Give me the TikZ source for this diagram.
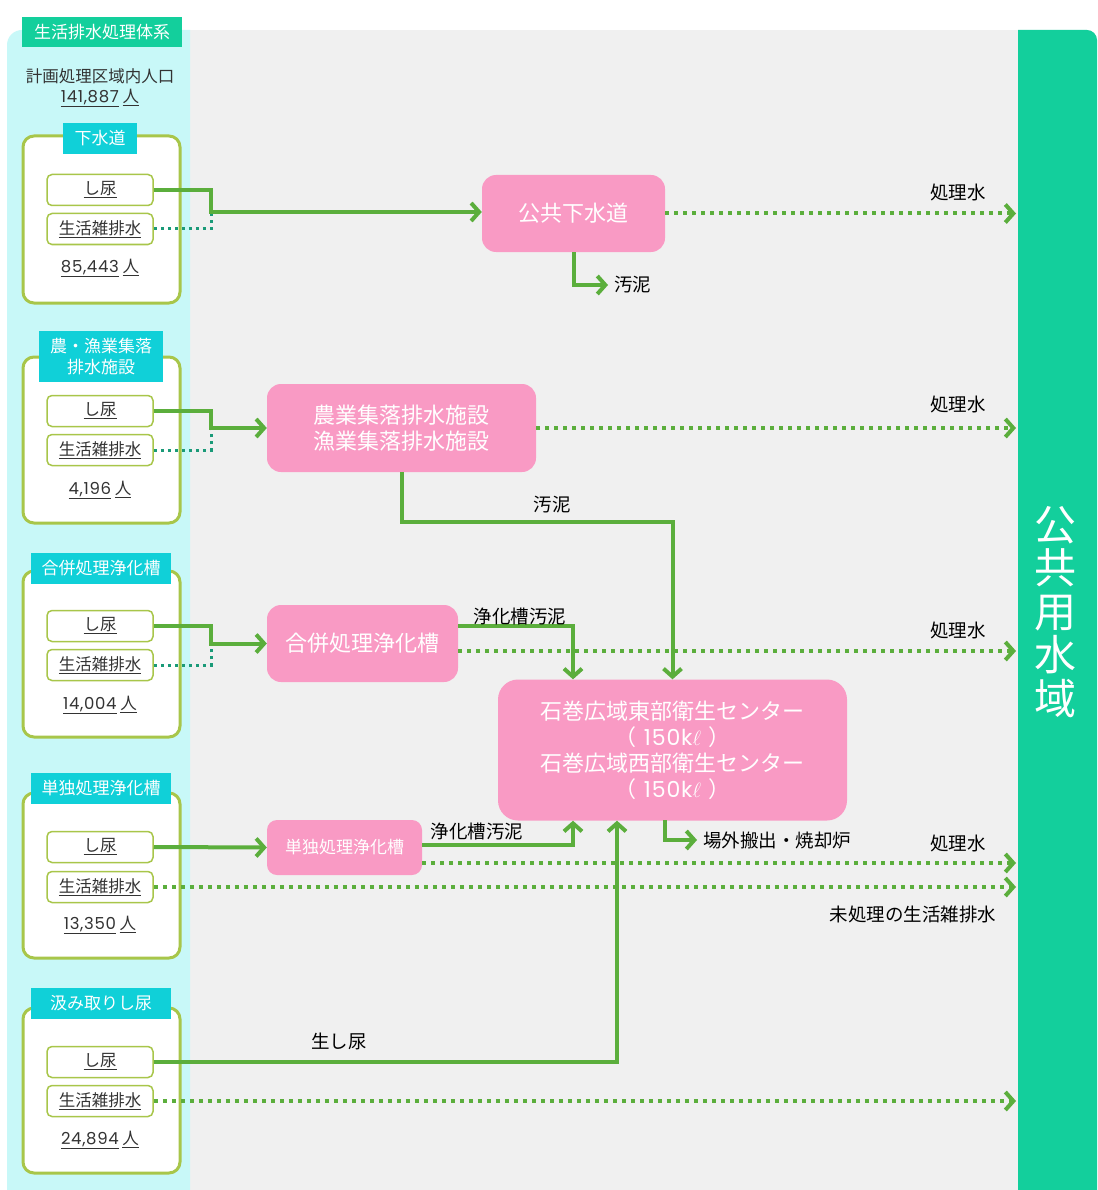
\documentclass[tikz,border=0pt]{standalone}
\usepackage{fontspec}
\setmainfont{Noto Sans CJK JP}
\newfontfamily\numfont[LetterSpace=4]{Poppins}
\usetikzlibrary{arrows.meta}
\definecolor{cyanbg}{HTML}{C8F8F8}
\definecolor{graybg}{HTML}{F0F0F0}
\definecolor{seagreen}{HTML}{13CF9C}
\definecolor{tabcyan}{HTML}{10D0D8}
\definecolor{boxgreen}{HTML}{A8C64A}
\definecolor{arrgreen}{HTML}{5BAE3C}
\definecolor{dotteal}{HTML}{1A9A78}
\definecolor{pinkbox}{HTML}{F99AC4}
\definecolor{txtgray}{HTML}{333333}
\newcommand\fsz[2]{\fontsize{#1}{#2}\selectfont}
\newcommand\numu[1]{\underline{{\numfont #1}}}
\newcommand\capline{（\hspace{7pt}{\numfont 150k}$\ell$\hspace{7pt}）}
\tikzset{
  group/.style={draw=boxgreen, line width=3pt, fill=white, rounded corners=11pt, minimum width=157pt, inner sep=0pt},
  tab/.style={fill=tabcyan, text=white, font=\fsz{17}{21}, inner sep=0pt, align=center},
  item/.style={draw=boxgreen, line width=1.5pt, fill=white, rounded corners=5pt, minimum width=106pt, minimum height=31pt, inner sep=0pt, font=\fsz{16.5}{19}, text=txtgray},
  count/.style={font=\fsz{16.5}{19}, text=txtgray, inner sep=0pt},
  pink/.style={fill=pinkbox, rounded corners=14pt, text=white, align=center, inner sep=0pt, font=\fsz{22}{26}},
  flow/.style={draw=arrgreen, line width=4pt, -{Straight Barb[length=8pt,width=18pt]}},
  treated/.style={draw=arrgreen, line width=4pt, dash pattern=on 4pt off 5pt, -{Straight Barb[length=8pt,width=18pt]}},
  feed/.style={draw=dotteal, line width=3pt, dash pattern=on 3pt off 4pt},
  lbl/.style={font=\fsz{18.5}{21}, text=black, inner sep=0pt},
}
\begin{document}
\begin{tikzpicture}[x=1pt,y=-1pt]
\useasboundingbox (0,0) rectangle (1097,1190);
\fill[white] (0,0) rectangle (1097,1190);
% backgrounds
\fill[graybg] (190,30) rectangle (1018,1190);
\fill[cyanbg] (7,1190) [rounded corners=15pt]-- (7,30) [sharp corners]-- (190,30) -- (190,1190) -- cycle;
\fill[seagreen] (1018,1190) -- (1018,30) [rounded corners=10pt]-- (1097,30) [sharp corners]-- (1097,1190) -- cycle;
\node[text=white, font=\fsz{42}{43.5}, align=center, inner sep=0pt] (sea) at (1055,612) {公\\共\\用\\水\\域};

% title
\node[fill=seagreen, text=white, font=\fsz{17}{20}, minimum width=160pt, minimum height=30pt, inner sep=0pt] (title) at (102,32) {生活排水処理体系};
\node[count, align=center, font=\fsz{16.5}{20}] (pop) at (100,88) {計画処理区域内人口\\\numu{141,887} \underline{人}};

% groups
\node[group, minimum height=167pt] (g1) at (101.5,219.5) {};
\node[group, minimum height=166pt] (g2) at (101.5,440) {};
\node[group, minimum height=166pt] (g3) at (101.5,654) {};
\node[group, minimum height=165pt] (g4) at (101.5,875.5) {};
\node[group, minimum height=165pt] (g5) at (101.5,1090.5) {};

\node[tab, minimum width=74pt, minimum height=31pt] (t1) at (100,138.5) {下水道};
\node[tab, minimum width=124pt, minimum height=51pt] (t2) at (101,356.5) {農・漁業集落\\排水施設};
\node[tab, minimum width=140pt, minimum height=31pt] (t3) at (101,568.5) {合併処理浄化槽};
\node[tab, minimum width=140pt, minimum height=31pt] (t4) at (101,788.5) {単独処理浄化槽};
\node[tab, minimum width=140pt, minimum height=31pt] (t5) at (101,1003.5) {汲み取りし尿};

\node[item] (i1a) at (100,190) {\underline{し尿}};
\node[item] (i1b) at (100,229) {\underline{生活雑排水}};
\node[count] (n1) at (100,268) {\numu{85,443} \underline{人}};
\node[item] (i2a) at (100,411) {\underline{し尿}};
\node[item] (i2b) at (100,450) {\underline{生活雑排水}};
\node[count] (n2) at (100,490) {\numu{4,196} \underline{人}};
\node[item] (i3a) at (100,626) {\underline{し尿}};
\node[item] (i3b) at (100,665) {\underline{生活雑排水}};
\node[count] (n3) at (100,705) {\numu{14,004} \underline{人}};
\node[item] (i4a) at (100,847) {\underline{し尿}};
\node[item] (i4b) at (100,887) {\underline{生活雑排水}};
\node[count] (n4) at (100,925) {\numu{13,350} \underline{人}};
\node[item] (i5a) at (100,1062) {\underline{し尿}};
\node[item] (i5b) at (100,1101) {\underline{生活雑排水}};
\node[count] (n5) at (100,1140) {\numu{24,894} \underline{人}};

% treatment boxes
\node[pink, minimum width=183pt, minimum height=77pt] (p1) at (573.5,213.5) {公共下水道};
\node[pink, minimum width=269pt, minimum height=88pt] (p2) at (401.5,428) {農業集落排水施設\\漁業集落排水施設};
\node[pink, minimum width=191pt, minimum height=77pt] (p3) at (362.5,643.5) {合併処理浄化槽};
\node[pink, minimum width=155pt, minimum height=55pt, font=\fsz{17}{20}, rounded corners=10pt] (p4) at (344.5,847.5) {単独処理浄化槽};
\node[pink, minimum width=349pt, minimum height=141pt, font=\fsz{22}{26}, rounded corners=20pt] (p5) at (672.5,750) {石巻広域東部衛生センター\\\capline\\石巻広域西部衛生センター\\\capline};

% coordinates
\coordinate (j1) at (211,212);
\coordinate (j2) at (211,428);
\coordinate (j3) at (211,643.5);
\coordinate (w1) at (1016,213.5);
\coordinate (w2) at (1016,428);
\coordinate (w3) at (1016,651);
\coordinate (w4) at (1016,863);
\coordinate (w5) at (1016,887);
\coordinate (w6) at (1016,1101);
\coordinate (s1) at (608,285);
\coordinate (k2) at (672.5,522);
\coordinate (k3) at (573,626);
\coordinate (k4) at (573,845);
\coordinate (k5) at (617,1062);
\coordinate (k6) at (697,840);
\coordinate (q6) at (665,820);

% feeds
\draw[feed] (i1b.east) -| (j1);
\draw[feed] (i2b.east) -| (j2);
\draw[feed] (i3b.east) -| (j3);
\draw[flow] (i1a.east) -| (j1) -- (p1.west |- j1);
\draw[flow] (i2a.east) -| (j2) -- (p2.west);
\draw[flow] (i3a.east) -| (j3) -- (p3.west);
\draw[flow] (i4a.east) -- (p4.west);

% treated water
\draw[treated] (p1.east) -- (w1);
\draw[treated] (p2.east) -- (w2);
\draw[treated] (p3.east |- w3) -- (w3);
\draw[treated] (p4.east |- w4) -- (w4);
\draw[treated] (i4b.east) -- (w5);
\draw[treated] (i5b.east) -- (w6);

% sludge
\draw[flow] (p1.south) |- (s1);
\draw[flow] (p2.south) |- (k2) -- (p5.north);
\draw[flow] (p3.east |- k3) -- (k3) -- (k3 |- p5.north);
\draw[flow] (p4.east |- k4) -- (k4) -- (k4 |- p5.south);
\draw[flow] (i5a.east) -- (k5) -- (k5 |- p5.south);
\draw[flow] (q6) |- (k6);

% labels
\node[lbl, anchor=west] (l1) at ([xshift=6pt]s1) {汚泥};
\node[lbl] (l2) at (552,505) {汚泥};
\node[lbl] (l3) at (520,616) {浄化槽汚泥};
\node[lbl] (l4) at (477,831) {浄化槽汚泥};
\node[lbl] (l5) at (339,1041) {生し尿};
\node[lbl, anchor=west] (l6) at ([xshift=6pt]k6) {場外搬出・焼却炉};
\node[lbl] (r1) at (958,192) {処理水};
\node[lbl] (r2) at (958,404) {処理水};
\node[lbl] (r3) at (958,630) {処理水};
\node[lbl] (r4) at (958,843) {処理水};
\node[lbl] (r5) at (913,914) {未処理の生活雑排水};
\end{tikzpicture}
\end{document}
